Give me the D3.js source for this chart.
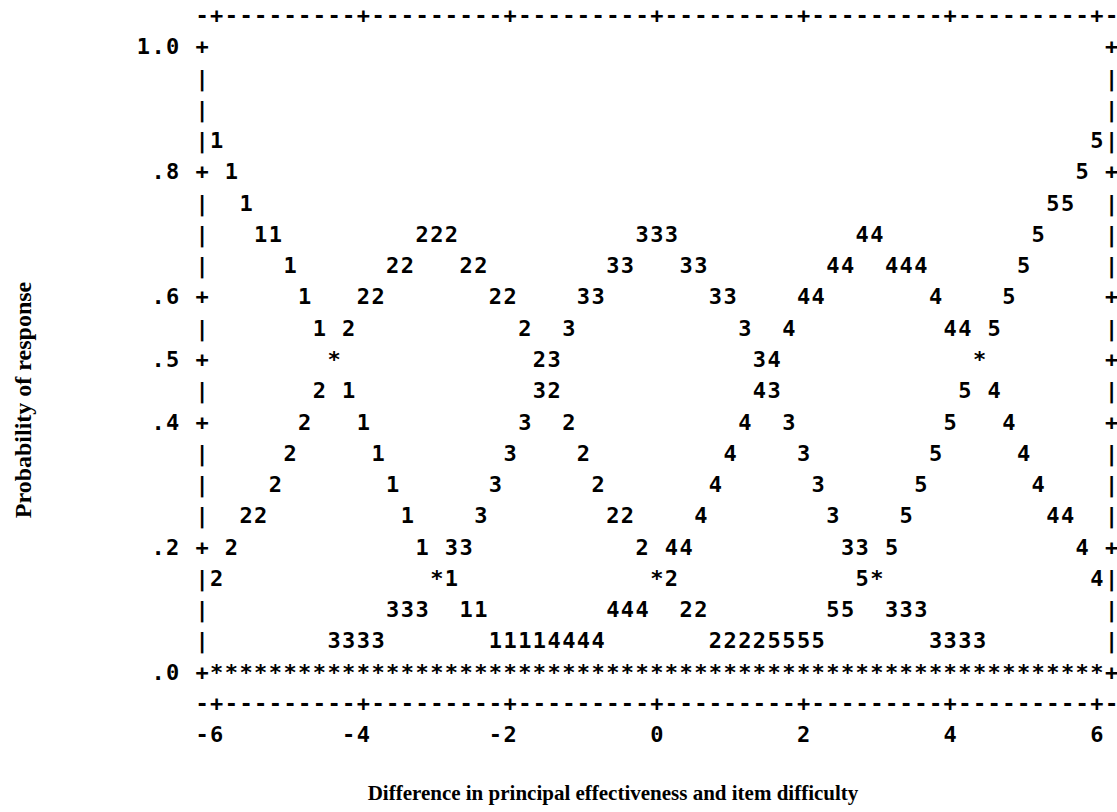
<!DOCTYPE html>
<html>
<head>
<meta charset="utf-8">
<script src="https://cdn.jsdelivr.net/npm/d3@7"></script>
<style>
  body { margin: 0; background: #fff; }
  svg { display: block; }
</style>
</head>
<body>
<script>
// axis ticks
const xTicks = [-6, -4, -2, 0, 2, 4, 6];
const yTicks = [1.0, 0.8, 0.6, 0.5, 0.4, 0.2, 0.0];
const yTickLabels = ['1.0', '.8', '.6', '.5', '.4', '.2', '.0'];

// category probability curves, [measure, probability]
const categories = ['1', '2', '3', '4', '5'];
const cat1 = [[-6.0,.85],[-5.8,.80],[-5.6,.75],[-5.4,.70],[-5.2,.70],[-5.0,.65],[-4.8,.60],[-4.6,.55],
  [-4.4,.50],[-4.2,.45],[-4.0,.40],[-3.8,.35],[-3.6,.30],[-3.4,.25],[-3.2,.20],[-3.0,.15],[-2.8,.15],
  [-2.6,.10],[-2.4,.10],[-2.2,.05],[-2.0,.05],[-1.8,.05],[-1.6,.05]];
const cat2 = [[-6.0,.15],[-5.8,.20],[-5.6,.25],[-5.4,.25],[-5.2,.30],[-5.0,.35],[-4.8,.40],[-4.6,.45],
  [-4.4,.50],[-4.2,.55],[-4.0,.60],[-3.8,.60],[-3.6,.65],[-3.4,.65],[-3.2,.70],[-3.0,.70],[-2.8,.70],
  [-2.6,.65],[-2.4,.65],[-2.2,.60],[-2.0,.60],[-1.8,.55],[-1.6,.50],[-1.4,.45],[-1.2,.40],[-1.0,.35],
  [-0.8,.30],[-0.6,.25],[-0.4,.25],[-0.2,.20],[0.0,.15],[0.2,.15],[0.4,.10],[0.6,.10],
  [0.8,.05],[1.0,.05],[1.2,.05],[1.4,.05]];
const cat3 = [[-4.4,.05],[-4.2,.05],[-4.0,.05],[-3.8,.05],[-3.6,.10],[-3.4,.10],[-3.2,.10],[-3.0,.15],
  [-2.8,.20],[-2.6,.20],[-2.4,.25],[-2.2,.30],[-2.0,.35],[-1.8,.40],[-1.6,.45],[-1.4,.50],[-1.2,.55],
  [-1.0,.60],[-0.8,.60],[-0.6,.65],[-0.4,.65],[-0.2,.70],[0.0,.70],[0.2,.70],[0.4,.65],[0.6,.65],
  [0.8,.60],[1.0,.60],[1.2,.55],[1.4,.50],[1.6,.45],[1.8,.40],[2.0,.35],[2.2,.30],[2.4,.25],
  [2.6,.20],[2.8,.20],[3.0,.15],[3.2,.10],[3.4,.10],[3.6,.10],[3.8,.05],[4.0,.05],[4.2,.05],[4.4,.05]];
const cat4 = [[-1.4,.05],[-1.2,.05],[-1.0,.05],[-0.8,.05],[-0.6,.10],[-0.4,.10],[-0.2,.10],[0.0,.15],
  [0.2,.20],[0.4,.20],[0.6,.25],[0.8,.30],[1.0,.35],[1.2,.40],[1.4,.45],[1.6,.50],[1.8,.55],
  [2.0,.60],[2.2,.60],[2.4,.65],[2.6,.65],[2.8,.70],[3.0,.70],[3.2,.65],[3.4,.65],[3.6,.65],
  [3.8,.60],[4.0,.55],[4.2,.55],[4.4,.50],[4.6,.45],[4.8,.40],[5.0,.35],[5.2,.30],[5.4,.25],
  [5.6,.25],[5.8,.20],[6.0,.15]];
const cat5 = [[1.6,.05],[1.8,.05],[2.0,.05],[2.2,.05],[2.4,.10],[2.6,.10],[2.8,.15],[3.0,.15],
  [3.2,.20],[3.4,.25],[3.6,.30],[3.8,.35],[4.0,.40],[4.2,.45],[4.4,.50],[4.6,.55],[4.8,.60],
  [5.0,.65],[5.2,.70],[5.4,.75],[5.6,.75],[5.8,.80],[6.0,.85]];
const series = [cat1, cat2, cat3, cat4, cat5];

const xTitle = 'Difference in principal effectiveness and item difficulty';
const yTitle = 'Probability of response';

const width = 1117;
const height = 812;
const mono = "'DejaVu Sans Mono', 'Liberation Mono', monospace";
const serif = "'Liberation Serif', 'Times New Roman', serif";

const svg = d3.select('body')
  .append('svg')
  .attr('width', width)
  .attr('height', height);

// one character cell = 0.2 logits wide, 0.05 probability tall
const x = d3.scaleLinear().domain([-6, 6]).range([216.7, 1096.9]);
const y = d3.scaleLinear().domain([0, 1]).range([671.7, 46.3]);
const cw = (x(6) - x(-6)) / 60;
const rh = (y(0) - y(1)) / 20;
const base = 8; // baseline shift so digits sit centred on the row

const g = svg.append('g')
  .attr('font-family', mono)
  .attr('font-weight', 'bold')
  .attr('font-size', 22)
  .attr('fill', '#000')
  .attr('text-anchor', 'middle');

function put(ch, px, py) {
  g.append('text')
    .attr('x', px)
    .attr('y', py + base)
    .text(ch);
}

// right-aligned string ending on column centre px
function putRight(str, px, py) {
  const chars = str.split('');
  chars.forEach((c, i) => put(c, px - (chars.length - 1 - i) * cw, py));
}

// top and bottom borders
const tickCols = new Set(xTicks.map(t => Math.round((x(t) - x(-6)) / cw)));
const borderCols = d3.range(-1, 62);
[y(1) - rh, y(0) + rh].forEach(py => {
  borderCols.forEach(i => put(tickCols.has(i) ? '+' : '-', x(-6) + i * cw, py));
});

// left and right axes
const tickRows = new Set(yTicks.map(t => Math.round(t * 20)));
d3.range(0, 21).forEach(k => {
  const ch = tickRows.has(k) ? '+' : '|';
  put(ch, x(-6) - cw, y(k / 20));
  put(ch, x(6) + cw, y(k / 20));
});
yTicks.forEach((t, i) => putRight(yTickLabels[i], x(-6) - 3 * cw, y(t)));

// x tick labels
xTicks.forEach(t => putRight(String(t), x(t), y(0) + 2 * rh));

// baseline where every curve coincides at zero
d3.range(0, 61).forEach(i => put('*', x(-6) + i * cw, y(0)));

// curves: a cell hit by two categories becomes '*'
const cells = new Map();
series.forEach((pts, s) => {
  pts.forEach(([v, p]) => {
    const key = Math.round((v + 6) * 5) + ':' + Math.round(p * 20);
    const prev = cells.get(key);
    cells.set(key, { v, p, ch: prev && prev.ch !== categories[s] ? '*' : categories[s] });
  });
});
cells.forEach(d => put(d.ch, x(d.v), y(d.p)));

// titles
svg.append('text')
  .attr('x', 613)
  .attr('y', 800)
  .attr('text-anchor', 'middle')
  .attr('font-family', serif)
  .attr('font-weight', 'bold')
  .attr('font-size', 21)
  .text(xTitle);

svg.append('text')
  .attr('transform', 'translate(31,400) rotate(-90)')
  .attr('text-anchor', 'middle')
  .attr('font-family', serif)
  .attr('font-weight', 'bold')
  .attr('font-size', 24)
  .text(yTitle);
</script>
</body>
</html>
